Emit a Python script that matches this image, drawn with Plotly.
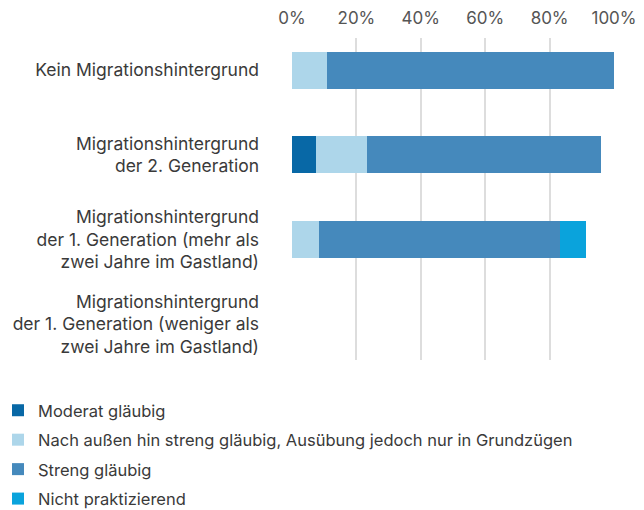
import plotly.graph_objects as go

# categories (top to bottom)
categories = [
    "Kein Migrationshintergrund",
    "Migrationshintergrund<br>der 2. Generation",
    "Migrationshintergrund<br>der 1. Generation (mehr als<br>zwei Jahre im Gastland)",
    "Migrationshintergrund<br>der 1. Generation (weniger als<br>zwei Jahre im Gastland)",
]

# shares in percent per category
moderat = [0, 7.6, 0, 0]
aussen_streng = [11.0, 15.6, 8.4, 0]
streng = [89.0, 72.9, 74.8, 0]
nicht_praktizierend = [0, 0, 8.2, 0]

x_ticks = [0, 20, 40, 60, 80, 100]
x_tick_labels = ["0%", "20%", "40%", "60%", "80%", "100%"]

series = [
    ("Moderat gläubig", moderat, "#0868a6"),
    ("Nach außen hin streng gläubig, Ausübung jedoch nur in Grundzügen", aussen_streng, "#add6ea"),
    ("Streng gläubig", streng, "#4589bc"),
    ("Nicht praktizierend", nicht_praktizierend, "#0aa3dc"),
]

fig = go.Figure()
for name, values, color in series:
    fig.add_trace(go.Bar(
        y=categories, x=values, name=name, orientation="h",
        marker=dict(color=color, line=dict(width=0)),
        width=0.437, legendgroup=name,
    ))

# the page body adds an 8px offset, so margins are shifted to compensate
fig.update_layout(
    barmode="stack",
    width=644, height=510,
    margin=dict(l=284, r=38, t=30, b=158, autoexpand=False),
    plot_bgcolor="white", paper_bgcolor="white",
    font=dict(family="Inter", size=17.5, color="#3a3a3a"),
    showlegend=True,
    legend=dict(
        x=-0.913, y=-0.1025, xanchor="left", yanchor="top",
        traceorder="grouped",
        font=dict(size=16.5, color="#3a3a3a"),
        itemwidth=30,
        tracegroupgap=5,
    ),
)
fig.update_xaxes(
    side="top", range=[0, 100], tickvals=x_ticks, ticktext=x_tick_labels,
    showgrid=True, gridcolor="#dddddd", gridwidth=1.5,
    zeroline=False, showline=False, automargin=False,
    ticklabelstandoff=10,
    tickfont=dict(size=17, color="#555555"),
)
fig.update_yaxes(
    categoryorder="array", categoryarray=categories,
    range=[3.422, -0.378], automargin=False,
    showgrid=False, zeroline=False, showline=False,
    ticklabelstandoff=32,
    tickfont=dict(size=17.5, color="#3a3a3a"),
)

fig.write_html("out.html")
